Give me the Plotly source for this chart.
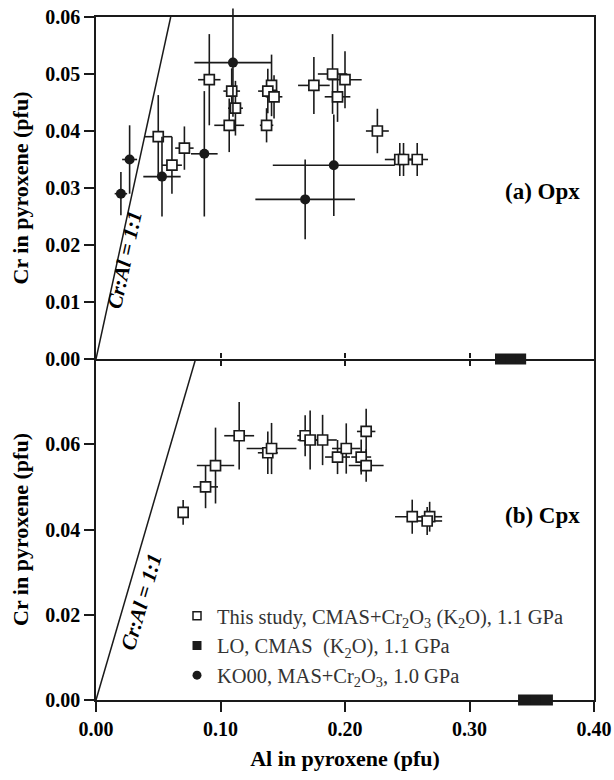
import plotly.graph_objects as go

# ---------------- data ----------------
# (a) Opx -- this study (open squares)
opx_s_x    = [0.050, 0.061, 0.071, 0.091, 0.109, 0.112, 0.107, 0.141, 0.138, 0.143, 0.137,
              0.175, 0.190, 0.200, 0.194, 0.226, 0.244, 0.247, 0.258]
opx_s_y    = [0.039, 0.034, 0.037, 0.049, 0.047, 0.044, 0.041, 0.048, 0.047, 0.046, 0.041,
              0.048, 0.050, 0.049, 0.046, 0.040, 0.035, 0.035, 0.035]
opx_s_xerr = [0.011, 0.008, 0.0074, 0.009, 0.0067, 0.006, 0.012, 0.004, 0.0078, 0.0067, 0.0054,
              0.0127, 0.0118, 0.0134, 0.0103, 0.0092, 0.012, 0.008, 0.0087]
opx_s_yerr = [0.0073, 0.005, 0.0038, 0.008, 0.004, 0.0048, 0.0047, 0.0054, 0.0039, 0.0038, 0.003,
              0.005, 0.007, 0.005, 0.0044, 0.0039, 0.0029, 0.0029, 0.0029]
# (a) Opx -- KO00 (filled circles)
opx_k_x    = [0.020, 0.027, 0.053, 0.087, 0.110, 0.191, 0.168]
opx_k_y    = [0.029, 0.035, 0.032, 0.036, 0.052, 0.034, 0.028]
opx_k_xerr = [0.005, 0.006, 0.015, 0.0107, 0.031, 0.049, 0.040]
opx_k_yerr = [0.0038, 0.006, 0.007, 0.011, 0.0095, 0.0089, 0.007]
# (a) Opx -- LO (range on the axis)
opx_lo_x, opx_lo_y, opx_lo_xerr = [0.333], [0.0], [0.0125]

# (b) Cpx -- this study (open squares)
cpx_s_x    = [0.070, 0.088, 0.096, 0.115, 0.138, 0.141, 0.168, 0.172, 0.182, 0.194, 0.201,
              0.217, 0.213, 0.217, 0.254, 0.268, 0.266]
cpx_s_y    = [0.044, 0.050, 0.055, 0.062, 0.058, 0.059, 0.062, 0.061, 0.061, 0.057, 0.059,
              0.063, 0.057, 0.055, 0.043, 0.043, 0.042]
cpx_s_xerr = [0.0, 0.010, 0.015, 0.012, 0.008, 0.020, 0.0065, 0.010, 0.0114, 0.010, 0.0114,
              0.0074, 0.008, 0.014, 0.0138, 0.010, 0.012]
cpx_s_yerr = [0.0029, 0.005, 0.0089, 0.0079, 0.005, 0.006, 0.0048, 0.0069, 0.0059, 0.004, 0.0059,
              0.0053, 0.0041, 0.0038, 0.004, 0.0035, 0.0033]
# (b) Cpx -- LO
cpx_lo_x, cpx_lo_y, cpx_lo_xerr = [0.353], [0.0], [0.014]

# 1:1 reference lines
ref_top_x, ref_top_y = [0.0, 0.06], [0.0, 0.06]
ref_bot_x, ref_bot_y = [0.0, 0.08], [0.0, 0.08]

x_ticks = [0.0, 0.1, 0.2, 0.3, 0.4]
x_ticktext = ["0.00", "0.10", "0.20", "0.30", "0.40"]
top_yticks = [0.0, 0.01, 0.02, 0.03, 0.04, 0.05, 0.06]
top_yticktext = ["0.00", "0.01", "0.02", "0.03", "0.04", "0.05", "0.06"]
bot_yticks = [0.0, 0.02, 0.04, 0.06]
bot_yticktext = ["0.00", "0.02", "0.04", "0.06"]

leg_names = ["This study, CMAS+Cr<sub>2</sub>O<sub>3</sub> (K<sub>2</sub>O), 1.1 GPa",
             "LO, CMAS&nbsp; (K<sub>2</sub>O), 1.1 GPa",
             "KO00, MAS+Cr<sub>2</sub>O<sub>3</sub>, 1.0 GPa"]

# ---------------- layout geometry (pixels) ----------------
W, H = 614, 780
L, R = 96, 20
T, B = 5, 66                       # plot area rows: 5 .. 714
PA_BOT = H - B
PA_H = PA_BOT - T
PA_W = W - L - R
def p(py):                         # pixel row -> paper fraction
    return (PA_BOT - py) / PA_H

Y_TOP, Y_MID, Y_BOT = 17, 359, 700
TOP_MAX = 0.06
# taller companion axis for panel (a), same scale, so error bars may overshoot the frame
TOP_EXT = TOP_MAX * (Y_MID - T) / (Y_MID - Y_TOP)

# ---------------- figure ----------------
FONT = "Liberation Serif, Times New Roman, serif"
INK = "#1a1a1a"
fig = go.Figure()

def err(arr, thick=1.6):
    return dict(type="data", array=arr, visible=True, color=INK, thickness=thick, width=0)

sq = dict(symbol="square", size=10, color="white", line=dict(color=INK, width=1.7))
ci = dict(symbol="circle", size=10, color=INK, line=dict(color=INK, width=0))
lo = dict(symbol="square", size=10, color=INK, line=dict(width=0))

# reference lines
fig.add_trace(go.Scatter(x=ref_top_x, y=ref_top_y, mode="lines", line=dict(color=INK, width=1.5),
                         xaxis="x", yaxis="y", showlegend=False, hoverinfo="skip"))
fig.add_trace(go.Scatter(x=ref_bot_x, y=ref_bot_y, mode="lines", line=dict(color=INK, width=1.5),
                         xaxis="x2", yaxis="y2", showlegend=False, hoverinfo="skip"))

# Opx
fig.add_trace(go.Scatter(x=opx_k_x, y=opx_k_y, mode="markers", marker=ci,
                         error_x=err(opx_k_xerr), error_y=err(opx_k_yerr),
                         xaxis="x", yaxis="y5", showlegend=False, cliponaxis=False))
fig.add_trace(go.Scatter(x=opx_s_x, y=opx_s_y, mode="markers", marker=sq,
                         error_x=err(opx_s_xerr), error_y=err(opx_s_yerr),
                         xaxis="x", yaxis="y", showlegend=False, cliponaxis=False))
# LO ranges drawn on thin strips centred on each zero line (so they are not clipped)
fig.add_trace(go.Scatter(x=opx_lo_x, y=opx_lo_y, mode="markers", marker=lo,
                         error_x=err(opx_lo_xerr, 11),
                         xaxis="x", yaxis="y3", showlegend=False, cliponaxis=False))
# Cpx
fig.add_trace(go.Scatter(x=cpx_s_x, y=cpx_s_y, mode="markers", marker=sq,
                         error_x=err(cpx_s_xerr), error_y=err(cpx_s_yerr),
                         xaxis="x2", yaxis="y2", showlegend=False, cliponaxis=False))
fig.add_trace(go.Scatter(x=cpx_lo_x, y=cpx_lo_y, mode="markers", marker=lo,
                         error_x=err(cpx_lo_xerr, 11),
                         xaxis="x2", yaxis="y4", showlegend=False, cliponaxis=False))

# legend entries
leg_markers = [dict(symbol="square", size=8, color="white", line=dict(color=INK, width=1.5)),
               dict(symbol="square", size=9, color=INK, line=dict(width=0)),
               dict(symbol="circle", size=9, color=INK, line=dict(width=0))]
for name, mk in zip(leg_names, leg_markers):
    fig.add_trace(go.Scatter(x=[None], y=[None], mode="markers", marker=mk, name=name,
                             xaxis="x2", yaxis="y2", showlegend=True))

# helper axis for upward tick marks on the shared border
fig.add_trace(go.Scatter(x=[None], y=[None], xaxis="x3", yaxis="y2", showlegend=False, hoverinfo="skip"))

tickfont = dict(family=FONT, size=20, color="black", weight="bold")
titlefont = dict(family=FONT, size=22, color="black", weight="bold")
axline = dict(showline=True, linecolor=INK, linewidth=1.6, showgrid=False, zeroline=False,
              automargin=False)
hidden = dict(visible=False, showgrid=False, zeroline=False, fixedrange=True, automargin=False)

fig.update_layout(
    template="none",
    width=W, height=H,
    margin=dict(l=L, r=R, t=T, b=B, autoexpand=False),
    paper_bgcolor="white", plot_bgcolor="rgba(0,0,0,0)",
    font=dict(family=FONT, color="black"),
    xaxis=dict(domain=[0, 1], anchor="y", range=[0, 0.4], tickvals=[0.1, 0.2, 0.3],
               showticklabels=False, ticks="outside", ticklen=5, tickwidth=1.6, tickcolor=INK,
               mirror=True, **axline),
    yaxis=dict(domain=[p(Y_MID), p(Y_TOP)], anchor="x", range=[0, TOP_MAX], tickvals=top_yticks,
               ticktext=top_yticktext, ticks="outside", ticklen=10, tickwidth=1.6, tickcolor=INK,
               tickfont=tickfont, mirror=True,
               title=dict(text="Cr in pyroxene (pfu)", font=titlefont, standoff=11), **axline),
    xaxis2=dict(domain=[0, 1], anchor="y2", range=[0, 0.4], tickvals=x_ticks, ticktext=x_ticktext,
                ticks="outside", ticklen=10, tickwidth=1.6, tickcolor=INK, tickfont=tickfont,
                mirror=False,
                title=dict(text="Al in pyroxene (pfu)", font=titlefont, standoff=12), **axline),
    yaxis2=dict(domain=[p(Y_BOT), p(Y_MID)], anchor="x2", range=[0, 0.08], tickvals=bot_yticks,
                ticktext=bot_yticktext, ticks="outside", ticklen=10, tickwidth=1.6, tickcolor=INK,
                tickfont=tickfont, mirror=True,
                title=dict(text="Cr in pyroxene (pfu)", font=titlefont, standoff=11), **axline),
    xaxis3=dict(overlaying="x2", anchor="y2", side="top", range=[0, 0.4], tickvals=[0.1, 0.2, 0.3],
                showticklabels=False, ticks="outside", ticklen=5, tickwidth=1.6, tickcolor=INK,
                showline=False, showgrid=False, zeroline=False, automargin=False),
    yaxis3=dict(domain=[p(Y_MID + 14), p(Y_MID - 14)], anchor="x", range=[-1, 1], **hidden),
    yaxis4=dict(domain=[p(Y_BOT + 14), p(Y_BOT - 14)], anchor="x2", range=[-1, 1], **hidden),
    yaxis5=dict(domain=[p(Y_MID), 1], anchor="x", range=[0, TOP_EXT], **hidden),
    legend=dict(x=(177 - L) / PA_W, y=p(596), xanchor="left", yanchor="top",
                bgcolor="rgba(0,0,0,0)", borderwidth=0,
                font=dict(family=FONT, size=20.5, color="#333333"), tracegroupgap=0),
    showlegend=True,
)

ann_font = dict(family=FONT, size=23, color="black", weight="bold")
lab_font = dict(family=FONT, size=21, color="black", weight="bold", style="italic")
fig.add_annotation(x=0.390, y=0.0293, xref="x", yref="y", text="(a) Opx", showarrow=False,
                   xanchor="right", yanchor="middle", font=ann_font)
fig.add_annotation(x=0.390, y=0.0434, xref="x2", yref="y2", text="(b) Cpx", showarrow=False,
                   xanchor="right", yanchor="middle", font=ann_font)
fig.add_annotation(x=0.0229, y=0.01737, xref="x", yref="y", text="Cr:Al = 1:1", showarrow=False,
                   textangle=-77.7, font=lab_font)
fig.add_annotation(x=0.0361, y=0.0231, xref="x2", yref="y2", text="Cr:Al = 1:1", showarrow=False,
                   textangle=-73.7, font=lab_font)

# remove the default 8px page margin so the 614x780 figure fills the window exactly
fig.write_html("out.html", config={"displayModeBar": False},
               post_script="document.body.style.margin='0px';")
